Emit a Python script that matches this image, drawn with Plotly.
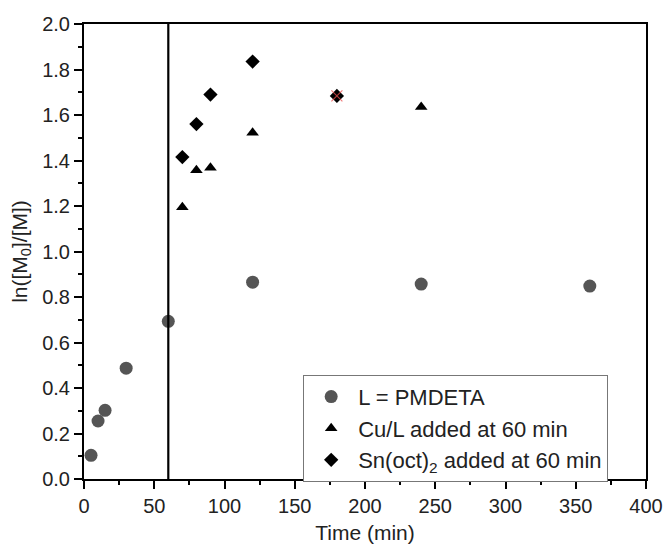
import plotly.graph_objects as go

# L = PMDETA
t_pmdeta = [5, 10, 15, 30, 60, 120, 240, 360]
y_pmdeta = [0.104, 0.255, 0.302, 0.487, 0.693, 0.865, 0.857, 0.848]

# Cu/L added at 60 min
t_cul = [70, 80, 90, 120, 240]
y_cul = [1.195, 1.357, 1.368, 1.522, 1.635]

# Sn(oct)2 added at 60 min
t_sn = [70, 80, 90, 120, 180]
y_sn = [1.415, 1.560, 1.690, 1.835, 1.684]

# red cross overlay point
t_red = [180]
y_red = [1.684]

addition_time = 60

fig = go.Figure()
fig.add_trace(go.Scatter(x=t_pmdeta, y=y_pmdeta, mode='markers', name='L = PMDETA',
                         marker=dict(symbol='circle', size=13, color='#555555')))
fig.add_trace(go.Scatter(x=t_cul, y=y_cul, mode='markers', name='Cu/L added at 60 min',
                         marker=dict(symbol='triangle-up', size=11, color='black')))
fig.add_trace(go.Scatter(x=t_sn, y=y_sn, mode='markers', name='Sn(oct)<sub>2</sub> added at 60 min',
                         marker=dict(symbol='diamond', size=11, color='black')))
fig.add_trace(go.Scatter(x=t_red, y=y_red, mode='markers', showlegend=False,
                         marker=dict(symbol='x-thin', size=11, color='rgba(235,80,80,0.75)',
                                     line=dict(width=1.2, color='rgba(235,80,80,0.75)'))))

fig.add_shape(type='line', x0=addition_time, x1=addition_time, y0=0, y1=2,
              xref='x', yref='y', line=dict(color='black', width=2.2))

axis_common = dict(showline=True, linecolor='black', linewidth=2, mirror=True,
                   ticks='outside', ticklen=8, tickwidth=1.5, tickcolor='black',
                   showgrid=False, zeroline=False, automargin=False,
                   tickfont=dict(size=20, color='#222'),
                   minor=dict(ticks='outside', ticklen=4, tickwidth=1.5, tickcolor='black'))

fig.update_xaxes(range=[0, 400], dtick=50, title=dict(text='Time (min)', font=dict(size=21, color='#222'), standoff=12),
                 minor_dtick=25, **axis_common)
fig.update_yaxes(range=[0, 2.0], dtick=0.2, tickformat='.1f',
                 title=dict(text='ln([M<sub>0</sub>]/[M])', font=dict(size=21, color='#222'), standoff=12),
                 minor_dtick=0.1, **axis_common)

# page body keeps its 8px margin, so the figure is sized to fit the window
fig.update_layout(
    width=655, height=536,
    margin=dict(l=76, r=17, t=16, b=65),
    plot_bgcolor='white', paper_bgcolor='white',
    font=dict(family='Liberation Sans, Arial, sans-serif', color='#222'),
    legend=dict(x=0.39, y=0.229, xanchor='left', yanchor='top',
                bordercolor='#777', borderwidth=1, bgcolor='white',
                font=dict(size=22, color='#222'), itemwidth=44),
)

fig.write_html("out.html", config={'displayModeBar': False})
